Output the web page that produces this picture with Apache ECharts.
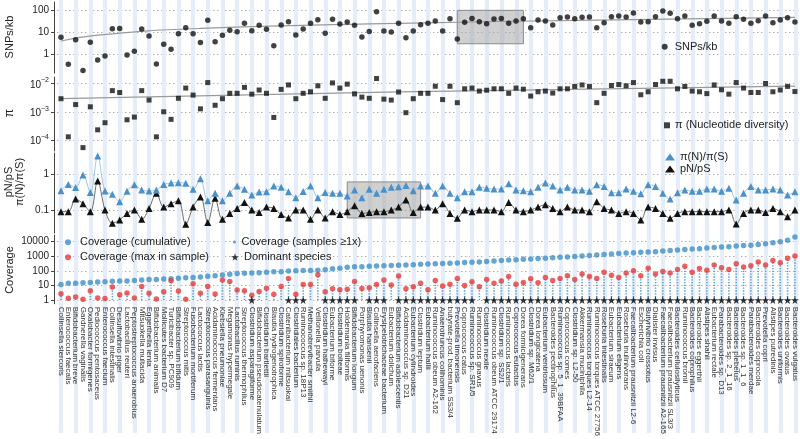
<!DOCTYPE html>
<html><head><meta charset="utf-8">
<script src="https://cdn.jsdelivr.net/npm/echarts@6/dist/echarts.min.js"></script>
<style>html,body{margin:0;padding:0;background:#fff}#c{width:800px;height:439px}</style>
</head><body><div id="c"></div>
<script>
const species = ["Collinsella stercoris","Enterococcus faecalis","Bifidobacterium breve","Gardnerella vaginalis","Oxalobacter formigenes","Pediococcus pentosaceus","Enterococcus faecium","Collinsella intestinalis","Desulfovibrio piger","Lactobacillus reuteri","Peptostreptococcus anaerobius","Mitsuokella multacida","Eggerthella lenta","Bifidobacterium animalis","Mollicutes bacterium D7","Turicibacter sp. PC909","Bifidobacterium bifidum","Streptococcus mitis","Fusobacterium mortiferum","Lactococcus lactis","Streptococcus parasanguinis","Acidaminococcus fermentans","Klebsiella pneumoniae","Megamonas hypermegale","Lactobacillus ruminis","Streptococcus thermophilus","Clostridium asparagiforme","Bifidobacterium pseudocatenulatum","Clostridium bartlettii","Blautia hydrogenotrophica","Clostridium spiroforme","Catenibacterium mitsuokai","Clostridiales bacterium","Ruminococcus sp. 18P13","Methanobrevibacter smithii","Veillonella parvula","Clostridium hathewayi","Eubacterium biforme","Clostridium bolteae","Holdemania filiformis","Bifidobacterium longum","Porphyromonas uenonis","Blautia hansenii","Collinsella aerofaciens","Erysipelotrichaceae bacterium","Eubacterium dolichum","Bifidobacterium adolescentis","Acidaminococcus sp. D21","Eubacterium cylindroides","Clostridium leptum","Eubacterium hallii","Ruminococcus obeum A2-162","Anaerotruncus colihominis","butyrate-prod. bacterium SS3/4","Prevotella timonensis","Coprococcus catus","Ruminococcus sp. SR1/5","Ruminococcus gnavus","Clostridium nexile","Ruminococcus obeum ATCC 29174","Clostridium sp. SS2/1","Ruminococcus lactaris","Coprococcus eutactus","Dorea formicigenerans","Clostridium sp. M62/1","Dorea longicatena","Eubacterium ventriosum","Bacteroides pectinophilus","Ruminococcus sp. 5_1_39BFAA","Coprococcus comes","Clostridium sp. L2-50","Akkermansia muciniphila","Ruminococcus torques L2-14","Ruminococcus torques ATCC 27756","Roseburia intestinalis","Eubacterium siraeum","Eubacterium eligens","Roseburia inulinivorans","Faecalibacterium prausnitzii L2-6","Escherichia coli","Butyrivibrio crossotus","Dialister invisus","Faecalibacterium prausnitzii A2-165","Faecalibacterium prausnitzii SL3/3","Bacteroides cellulosilyticus","Ruminococcus bromii","Bacteroides coprophilus","Bacteroides eggerthii","Alistipes shahii","Eubacterium rectale","Parabacteroides sp. D13","Bacteroides sp. 2_1_16","Bacteroides plebeius","Bacteroides sp. 1_1_6","Parabacteroides merdae","Bacteroides coprocola","Prevotella copri","Alistipes putredinis","Bacteroides uniformis","Bacteroides ovatus","Bacteroides vulgatus"];

const snpsPerKb = [6,0.35,4.6,0.18,3.5,0.55,0.84,14.6,15,0.93, 1.37,14,6.8,0.36,2.85,1.7,8.6,16,8.6,3.4, 35,3.7,7.3,12.3,10.6,25.6,11.8,20.8,13.7,2.46, 21.5,30,7.5,14,25.6,37,9,39,24,29.5, 20.8,6.1,11,86,11.4,10.3,25.6,5.7,11.4,22, 25.6,32.5,11.4,41.5,5,28.5,43,30,24.7,40, 43,25.6,32.5,41.5,16,36,32.5,21.5,46,50, 41.5,48,50,16,27.5,51,55,50,75,29.5, 30,51,93,73,41.5,55,20.8,24.7,31.6,55, 32.5,25.6,51,39,25.6,33.5,55,27.5,36,46,29.5];
const snpsTrendAt = [0,5,19,46,73,100];
const snpsTrend = [4,7.5,15,25.6,36,48];

const nucleotideDiversity = [2.9e-3,1.3e-4,1.8e-3,5.4e-5,1.5e-3,2.3e-4,4.1e-4,5.6e-3,4.8e-3,5.2e-4, 6.5e-4,5.6e-3,2.6e-3,1.3e-4,1e-3,5.4e-4,3e-3,6.9e-3,3.9e-3,1.27e-3, 1.08e-2,1.7e-3,2.9e-3,4.5e-3,4.5e-3,7.3e-3,4.2e-3,5.9e-3,4.5e-3,6.3e-4, 6.2e-3,8.9e-3,2.9e-3,4.5e-3,5.1e-3,8.3e-3,3e-3,1.05e-2,6.9e-3,9.5e-3, 4.3e-3,3.3e-3,3e-3,1.5e-2,2.8e-3,2.6e-3,5e-3,9.3e-4,2.9e-3,4.5e-3, 4.5e-3,8e-3,2.7e-3,8e-3,2.1e-3,6.5e-3,6.9e-3,5.4e-3,5.8e-3,6.5e-3, 6.5e-3,4.5e-3,6.9e-3,6.3e-3,3.6e-3,5.1e-3,5.4e-3,4.6e-3,6.5e-3,6.5e-3, 7.9e-3,8.9e-3,7.9e-3,2.1e-3,4.5e-3,8.5e-3,9.2e-3,8.3e-3,1.08e-2,4e-3, 5.1e-3,9.2e-3,1.2e-2,1.2e-2,6.5e-3,7.9e-3,5.4e-3,5.1e-3,4.4e-3,8.9e-3, 6e-3,4.2e-3,1.08e-2,6.9e-3,4.8e-3,4.8e-3,1e-2,5.1e-3,5.9e-3,7.9e-3,5.2e-3];
const piTrendAt = [0,46,100];
const piTrend = [2.9e-3,5.1e-3,8.1e-3];

const piNpiS = [0.344,0.506,0.417,0.94,0.303,3.16,0.337,0.272,0.17,0.33, 0.5,0.36,0.337,0.36,0.506,0.56,0.57,0.55,0.375,0.74, 0.18,0.29,0.18,0.29,0.46,0.375,0.26,0.316,0.32,0.46, 0.43,0.32,0.22,0.325,0.46,0.22,0.303,0.29,0.29,0.245, 0.36,0.22,0.375,0.29,0.375,0.43,0.44,0.48,0.34,0.46, 0.46,0.29,0.46,0.29,0.22,0.32,0.32,0.43,0.4,0.38, 0.38,0.53,0.36,0.34,0.32,0.43,0.56,0.46,0.36,0.43, 0.36,0.36,0.33,0.5,0.45,0.3,0.3,0.38,0.33,0.28, 0.5,0.45,0.29,0.2,0.3,0.36,0.33,0.33,0.38,0.38, 0.33,0.4,0.19,0.29,0.45,0.36,0.36,0.38,0.36,0.26,0.32];
const pNpS = [0.09,0.09,0.2,0.15,0.09,0.64,0.1,0.043,0.053,0.08, 0.1,0.055,0.11,0.29,0.12,0.15,0.18,0.04,0.12,0.23, 0.045,0.21,0.055,0.08,0.11,0.16,0.1,0.085,0.12,0.11, 0.075,0.06,0.1,0.1,0.055,0.1,0.06,0.09,0.075,0.09, 0.13,0.08,0.085,0.09,0.09,0.1,0.12,0.19,0.085,0.12, 0.12,0.1,0.15,0.08,0.059,0.1,0.09,0.1,0.1,0.1, 0.09,0.16,0.1,0.09,0.1,0.12,0.14,0.11,0.09,0.12, 0.1,0.1,0.09,0.17,0.11,0.1,0.08,0.09,0.08,0.053, 0.12,0.11,0.08,0.059,0.08,0.09,0.09,0.09,0.09,0.09, 0.09,0.1,0.041,0.08,0.1,0.1,0.085,0.11,0.09,0.065,0.1];

const coverageCumulative = [11.5,14,14,15,16,17,18,19,20,20, 22,23,25,25,27,28,31,33,35,38, 42,46,52,57,65,68,71,74,80,84, 87,95,100,105,105,110,118,135,150,170, 185,190,200,210,220,230,240,250,260,275, 290,300,310,320,340,360,380,400,430,460, 500,540,570,600,640,680,720,770,820,870, 930,1000,1100,1200,1300,1400,1500,1600,1700,1800, 1900,2000,2200,2400,2600,2800,3000,3200,3500,3800, 4100,4400,4800,5200,5600,6200,7000,8000,9500,12000,20000];
const coverageMaxInSample = [2.7,1.33,1.6,1.15,4.4,1.4,1.3,7.8,2.3,3, 1.4,8.3,2.9,1.2,3.7,20.5,4.2,1.15,12.8,2.9, 8.3,2.6,23.7,18.6,4.9,4.4,2.15,3.8,6.5,2.5, 8.3,30,2.5,11.5,11.5,54,3.7,5.9,5.1,5.4, 18.6,6.2,6.9,11.5,23.7,10.5,44,6,8,14, 5,22,9,12,30,10,18,8,25,14, 20,40,12,16,28,15,35,22,30,45, 25,60,40,30,80,50,35,70,100,45, 150,60,90,70,120,200,80,140,110,250, 160,120,300,180,220,400,250,500,350,700,1000];
const dominantSpeciesIdx = [26,31,32,33,36,37,38,39,40,42,43,44,46,47,48,49,50,51,52,53,54,55,56,58,59,60,61,62,63,64,65,66,67,68,69,70,71,72,73,74,75,76,77,78,79,80,81,82,83,84,85,86,87,88,89,90,91,92,93,94,95,96,97,98,99,100];

const FONT = "'Liberation Sans', Arial, Helvetica, sans-serif";
const STAR = 'path://M50,0 L61,35 L98,35 L68,57 L79,91 L50,70 L21,91 L32,57 L2,35 L39,35 Z';
const GL = 57.3, GR = 1.4;
const chart = echarts.init(document.getElementById('c'), null, {renderer:'canvas'});

const baseX = gi => ({type:'category', gridIndex:gi, data:species, boundaryGap:true,
  axisLine:{show:false}, axisTick:{show:false}, axisLabel:{show:false, interval:0}, splitLine:{show:false}});
const plainFmt = v => String(+Number(v).toPrecision(6));
const baseY = (gi, min, max, fmt, rich) => ({type:'log', gridIndex:gi, min, max, offset:3.3,
  axisLine:{show:true, lineStyle:{color:'#444', width:1}},
  axisTick:{show:true, length:3, lineStyle:{color:'#444'}},
  axisLabel:{fontSize:10, color:'#222', margin:5, fontFamily:FONT, showMinLabel:false, showMaxLabel:false, formatter:fmt || plainFmt, rich: rich},
  splitLine:{show:true, showMinLine:false, showMaxLine:false, lineStyle:{type:[1,3], color:'#8a8a8a', width:1}}});
const supFmt = v => { const e = Math.round(Math.log10(v)); return '{b|10}{s|' + (e < 0 ? '\u2212' : '') + Math.abs(e) + '}'; };
const supRich = { b:{fontSize:10, color:'#222', lineHeight:13, verticalAlign:'bottom', fontFamily:FONT},
                  s:{fontSize:7, color:'#222', lineHeight:13, verticalAlign:'top', fontFamily:FONT} };

const lg = (left, top, iw, ih, name, icon) => ({left, top, itemWidth:iw, itemHeight:ih, padding:0, itemGap:0,
  selectedMode:false, textStyle:{fontSize:11, color:'#222', fontFamily:FONT, lineHeight:14}, data:[{name, icon}]});

const option = {
  animation:false,
  textStyle:{fontFamily:FONT},
  grid:[
    {left:61, right:4.7, top:0, height:433},
    {left:GL, right:GR, top:2, height:71},
    {left:GL, right:GR, top:77, height:74},
    {left:GL, right:GR, top:153, height:80},
    {left:GL, right:GR, top:235, height:75}
  ],
  xAxis:[
    {type:'category', gridIndex:0, data:species, boundaryGap:false,
     axisLine:{show:false}, axisTick:{show:false}, axisLabel:{show:false, interval:0},
     splitLine:{show:true, interval:1, lineStyle:{color:'#e4edf8', width:4.2}}},
    baseX(1), baseX(2), baseX(3),
    Object.assign(baseX(4), {axisLabel:{show:true, interval:0, rotate:-90, fontSize:8, color:'#333', margin:3, fontFamily:FONT}})
  ],
  yAxis:[
    {type:'value', gridIndex:0, show:false, min:0, max:1},
    baseY(1, 0.14, 240),
    baseY(2, 4.1e-5, 0.017, supFmt, supRich),
    baseY(3, 0.023, 3.8),
    baseY(4, 0.56, 27500)
  ],
  legend:[
    lg(661.7, 39.7, 10, 6, 'SNPs/kb', 'circle'),
    lg(664, 118.3, 6, 6, 'π (Nucleotide diversity)', 'rect'),
    lg(665, 150, 10, 7, 'π(N)/π(S)', 'triangle'),
    lg(665, 162, 10, 7, 'pN/pS', 'triangle'),
    lg(65, 235.3, 14, 6, 'Coverage (cumulative)', 'circle'),
    lg(65, 250.3, 14, 6, 'Coverage (max in sample)', 'circle'),
    lg(233, 235, 4, 3, 'Coverage (samples ≥1x)', 'circle'),
    lg(231, 250, 8, 8, 'Dominant species', STAR)
  ],
  graphic:[
    {type:'text', x:10, y:37, rotation:Math.PI/2, style:{text:'SNPs/kb', fontSize:11, fontFamily:FONT, fill:'#222', align:'center', verticalAlign:'middle'}},
    {type:'text', x:10, y:113, rotation:Math.PI/2, style:{text:'π', fontSize:12, fontFamily:FONT, fill:'#222', align:'center', verticalAlign:'middle'}},
    {type:'text', x:9, y:182, rotation:Math.PI/2, style:{text:'pN/pS', fontSize:11, fontFamily:FONT, fill:'#222', align:'center', verticalAlign:'middle'}},
    {type:'text', x:20, y:182, rotation:Math.PI/2, style:{text:'π(N)/π(S)', fontSize:11, fontFamily:FONT, fill:'#222', align:'center', verticalAlign:'middle'}},
    {type:'text', x:10, y:270, rotation:Math.PI/2, style:{text:'Coverage', fontSize:11, fontFamily:FONT, fill:'#222', align:'center', verticalAlign:'middle'}}
  ],
  series:[
    {name:'SNPs trend', type:'line', xAxisIndex:1, yAxisIndex:1, z:2, smooth:true, symbol:'none', silent:true,
     data:snpsTrendAt.map((x,i)=>[x, snpsTrend[i]]), lineStyle:{color:'#9a9a9a', width:1.2},
     markArea:{silent:true, itemStyle:{color:'rgba(170,170,170,0.55)', borderColor:'#8c8c8c', borderWidth:1},
       data:[[{xAxis:species[54], yAxis:3},{xAxis:species[63], yAxis:100}]]}},
    {name:'SNPs/kb', type:'scatter', xAxisIndex:1, yAxisIndex:1, z:3, symbol:'circle', symbolSize:5.5,
     itemStyle:{color:'#111'}, data:snpsPerKb.map((v,i)=>[i,v])},
    {name:'π trend', type:'line', xAxisIndex:2, yAxisIndex:2, z:2, smooth:true, symbol:'none', silent:true,
     data:piTrendAt.map((x,i)=>[x, piTrend[i]]), lineStyle:{color:'#9a9a9a', width:1.2}},
    {name:'π (Nucleotide diversity)', type:'scatter', xAxisIndex:2, yAxisIndex:2, z:3, symbol:'rect', symbolSize:5,
     itemStyle:{color:'#111'}, data:nucleotideDiversity.map((v,i)=>[i,v])},
    {name:'pN/pS', type:'line', xAxisIndex:3, yAxisIndex:3, z:3, smooth:0.35, symbol:'triangle', symbolSize:7,
     showSymbol:true, showAllSymbol:true,
     itemStyle:{color:'#111'}, lineStyle:{color:'#6a6a6a', width:1}, data:pNpS.map((v,i)=>[i,v]),
     markArea:{silent:true, itemStyle:{color:'rgba(170,170,170,0.55)', borderColor:'#8c8c8c', borderWidth:1},
       data:[[{xAxis:species[39], yAxis:0.06},{xAxis:species[49], yAxis:0.6}]]}},
    {name:'π(N)/π(S)', type:'line', xAxisIndex:3, yAxisIndex:3, z:4, smooth:0.35, symbol:'triangle', symbolSize:7,
     showSymbol:true, showAllSymbol:true,
     itemStyle:{color:'#4a90c9'}, lineStyle:{color:'#9ec5e6', width:1}, data:piNpiS.map((v,i)=>[i,v])},
    {name:'Coverage (samples ≥1x)', type:'custom', xAxisIndex:4, yAxisIndex:4, z:2, silent:true,
     itemStyle:{color:'#5a9fd4'}, data:coverageMaxInSample.map((v,i)=>[i,v]),
     renderItem:(params, api) => {
       const x = api.value(0), top = api.value(1);
       const p0 = api.coord([x, 1]), p1 = api.coord([x, top]);
       return {type:'line', shape:{x1:p0[0], y1:p0[1], x2:p1[0], y2:p1[1]},
               style:{stroke:'#5a9fd4', lineWidth:1.6, lineDash:[1.3,1.5]}};
     }},
    {name:'Coverage (cumulative)', type:'scatter', xAxisIndex:4, yAxisIndex:4, z:3, symbol:'circle', symbolSize:5.5,
     itemStyle:{color:'#3d8ec9'}, data:coverageCumulative.map((v,i)=>[i,v])},
    {name:'Coverage (max in sample)', type:'scatter', xAxisIndex:4, yAxisIndex:4, z:4, symbol:'circle', symbolSize:5.5,
     itemStyle:{color:'#e23b3b'}, data:coverageMaxInSample.map((v,i)=>[i,v])},
    {name:'Dominant species', type:'scatter', xAxisIndex:4, yAxisIndex:4, z:5, symbol:STAR, symbolSize:8,
     itemStyle:{color:'#000'}, data:dominantSpeciesIdx.map(i=>[i,1])}
  ]
};
chart.setOption(option);
</script></body></html>
